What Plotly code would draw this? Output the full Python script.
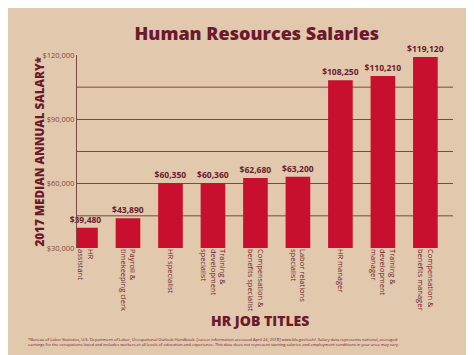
import plotly.graph_objects as go

categories = ["HR<br>assistant", "Payroll &<br>timekeeping clerk", "HR specialist",
              "Training &<br>development<br>specialist", "Compensation &<br>benefits specialist",
              "Labor relations<br>specialist", "HR manager",
              "Training &<br>development<br>manager", "Compensation &<br>benefits manager"]
salaries = [39480, 43890, 60350, 60360, 62680, 63200, 108250, 110210, 119120]
y_tickvals = [30000, 60000, 90000, 120000]
y_ticktext = ["$30,000", "$60,000", "$90,000", "$120,000"]

BG = "#E2C8AC"
BAR = "#C8102E"
TXT = "#6B1A2E"
GRID = "#7A4A3E"

fig = go.Figure(go.Bar(
    x=categories, y=salaries, marker_color=BAR, marker_line_width=0,
    width=0.58,
    text=["$" + f"{v:,}" for v in salaries], textposition="outside",
    textfont=dict(family="Open Sans", size=8.5, color=TXT, weight="bold"),
    constraintext="none", cliponaxis=False,
))

fig.update_layout(
    width=474, height=355,
    paper_bgcolor=BG, plot_bgcolor=BG,
    margin=dict(l=69, r=29, t=47, b=115),
    showlegend=False,
    title=dict(text="Human Resources Salaries", x=0.525, xanchor="center", y=0.927, yanchor="middle",
               font=dict(family="Open Sans", size=18, color=TXT, weight=800)),
    xaxis=dict(range=[-0.2, 8.65], tickangle=90, showgrid=False, showline=False, ticks="",
               automargin=False,
               tickfont=dict(family="Open Sans", size=7.5, color=TXT)),
    yaxis=dict(range=[30000, 120000], tickvals=y_tickvals, ticktext=y_ticktext,
               automargin=False,
               showgrid=True, gridcolor=GRID, gridwidth=1, zeroline=False,
               showline=True, linecolor=GRID, linewidth=1.2, ticks="",
               tickfont=dict(family="Open Sans", size=7.5, color=GRID)),
)
for v in [45000, 75000, 105000]:
    fig.add_shape(type="line", xref="paper", x0=0, x1=1, yref="y", y0=v, y1=v,
                  line=dict(color=GRID, width=1), layer="below")

fig.add_annotation(text="2017 MEDIAN ANNUAL SALARY*", xref="paper", yref="paper", x=-0.13, y=0.5,
                   textangle=-90, showarrow=False,
                   font=dict(family="Open Sans", size=11.7, color=TXT, weight=800))
fig.add_annotation(text="HR JOB TITLES", xref="paper", yref="paper", x=0.487, xanchor="center",
                   y=-0.375, yanchor="middle", showarrow=False,
                   font=dict(family="Open Sans", size=14, color=TXT, weight=800))
fig.add_annotation(
    text=("*Bureau of Labor Statistics, U.S. Department of Labor, Occupational Outlook Handbook. [career information accessed April 24, 2018] www.bls.gov/ooh/. Salary data represents national, averaged"
          "<br>earnings for the occupations listed and includes workers at all levels of education and experience. This data does not represent starting salaries and employment conditions in your area may vary."),
    xref="paper", yref="paper", x=-0.136, xanchor="left", y=-0.485, yanchor="middle", align="left",
    showarrow=False, font=dict(family="Open Sans", size=4.1, color=TXT))

fig.write_html("out.html")
